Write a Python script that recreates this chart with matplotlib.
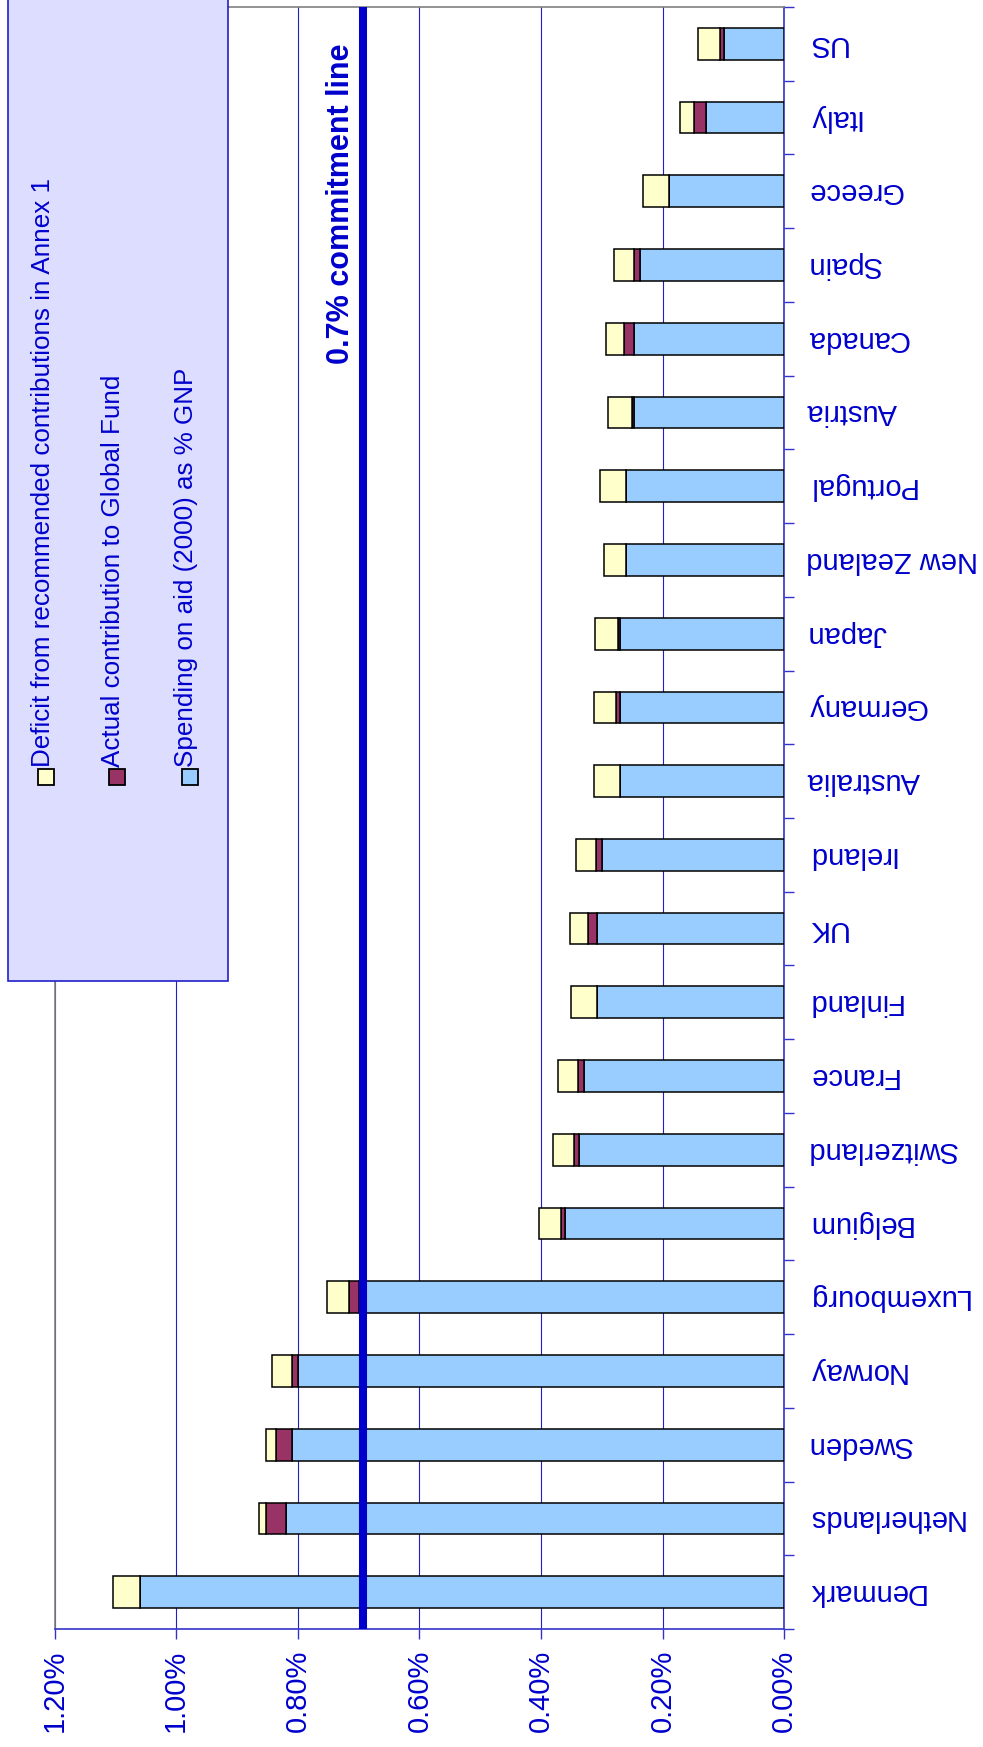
import numpy as np
import matplotlib
matplotlib.use('Agg')
import matplotlib.pyplot as plt
import matplotlib.patches as patches
import matplotlib.ticker as ticker

plt.rcParams['font.family'] = ['Liberation Sans', 'DejaVu Sans']

countries = ['Denmark', 'Netherlands', 'Sweden', 'Norway', 'Luxembourg', 'Belgium',
             'Switzerland', 'France', 'Finland', 'UK', 'Ireland', 'Australia', 'Germany',
             'Japan', 'New Zealand', 'Portugal', 'Austria', 'Canada', 'Spain', 'Greece',
             'Italy', 'US']
# % of GNP
spending = [1.06, 0.82, 0.81, 0.80, 0.70, 0.36, 0.338, 0.329, 0.308, 0.308, 0.299,
            0.27, 0.27, 0.27, 0.26, 0.26, 0.247, 0.2475, 0.237, 0.19, 0.128, 0.099]
actual = [0.0, 0.033, 0.025, 0.009, 0.016, 0.0076, 0.007, 0.010, 0.0, 0.014, 0.011,
          0.0, 0.0066, 0.003, 0.0, 0.0, 0.004, 0.016, 0.010, 0.0, 0.020, 0.0066]
deficit = [0.043, 0.010, 0.017, 0.033, 0.036, 0.036, 0.0355, 0.033, 0.043, 0.030, 0.032,
           0.043, 0.036, 0.039, 0.036, 0.043, 0.039, 0.030, 0.033, 0.043, 0.023, 0.036]
commitment = 0.693

legend_labels = ['Deficit from recommended contributions in Annex 1',
                 'Actual contribution to Global Fund',
                 'Spending on aid (2000) as % GNP']
c_spend, c_actual, c_deficit = '#99CCFF', '#993366', '#FFFFCC'
blue = '#0000CC'

W, H = 983, 1747
fig = plt.figure(figsize=(W / 100, H / 100), dpi=100)
ax = fig.add_axes([54.5 / W, 1 - 1629 / H, (784.3 - 54.5) / W, (1629 - 7) / H])

y = np.arange(len(countries))
spending = np.array(spending)
actual = np.array(actual)
deficit = np.array(deficit)
kw = dict(height=0.43, edgecolor='black', linewidth=1.1, zorder=3)
ax.barh(y, spending, color=c_spend, **kw)
ax.barh(y, actual, left=spending, color=c_actual, **kw)
ax.barh(y, deficit, left=spending + actual, color=c_deficit, **kw)

ax.axvline(commitment, color=blue, linewidth=5.8, zorder=4)

ax.set_xlim(1.2, 0)
ax.set_ylim(-0.5, len(countries) - 0.5)
ax.set_xticks(np.arange(0, 1.21, 0.2))
ax.xaxis.set_major_formatter(ticker.FuncFormatter(lambda v, p: '%.2f%%' % v))
ax.grid(axis='x', color='#2020C8', linewidth=0.8, zorder=1)
ax.tick_params(axis='x', direction='out', length=7, color='#3333CC', width=1,
               labelrotation=90, labelsize=21, labelcolor=blue, pad=8)

ax.yaxis.tick_right()
ax.set_yticks(y)
ax.set_yticklabels(countries, rotation=180, fontsize=21, color=blue)
ax.tick_params(axis='y', which='major', length=0, pad=16)
ax.set_yticks(np.arange(-0.5, len(countries), 1), minor=True)
ax.tick_params(axis='y', which='minor', direction='out', length=7, color='#3333CC', width=1)
for lab in ax.get_yticklabels():
    lab.set_horizontalalignment('left')
    lab.set_verticalalignment('center')

ax.spines['top'].set_color('#808080')
ax.spines['left'].set_color('#808080')
ax.spines['right'].set_color('#3333CC')
ax.spines['bottom'].set_color('#3333CC')
for s in ax.spines.values():
    s.set_linewidth(1.2)

fig.text(341 / W, 1 - 43 / H, '0.7% commitment line', rotation=90, ha='center', va='top',
         fontsize=22, fontweight='bold', color=blue)

# legend box drawn by hand (rotated entries)
fig.patches.append(patches.Rectangle((8.3 / W, 1 - 981.3 / H), 220 / W, 990 / H,
                                     transform=fig.transFigure, facecolor='#DDDDFF',
                                     edgecolor='#2020CC', linewidth=1.2, zorder=5))
sq_x = [46, 116.7, 189.5]
txt_x = [31, 101, 174]
for lab, col, sx, tx in zip(legend_labels, [c_deficit, c_actual, c_spend], sq_x, txt_x):
    fig.patches.append(patches.Rectangle(((sx - 8) / W, 1 - 785 / H), 16 / W, 16 / H,
                                         transform=fig.transFigure, facecolor=col,
                                         edgecolor='black', linewidth=1.3, zorder=6))
    fig.text(tx / W, 1 - 767 / H, lab, rotation=90, ha='left', va='bottom',
             fontsize=18.7, color=blue, zorder=7)

fig.savefig('out.png', dpi=100)
